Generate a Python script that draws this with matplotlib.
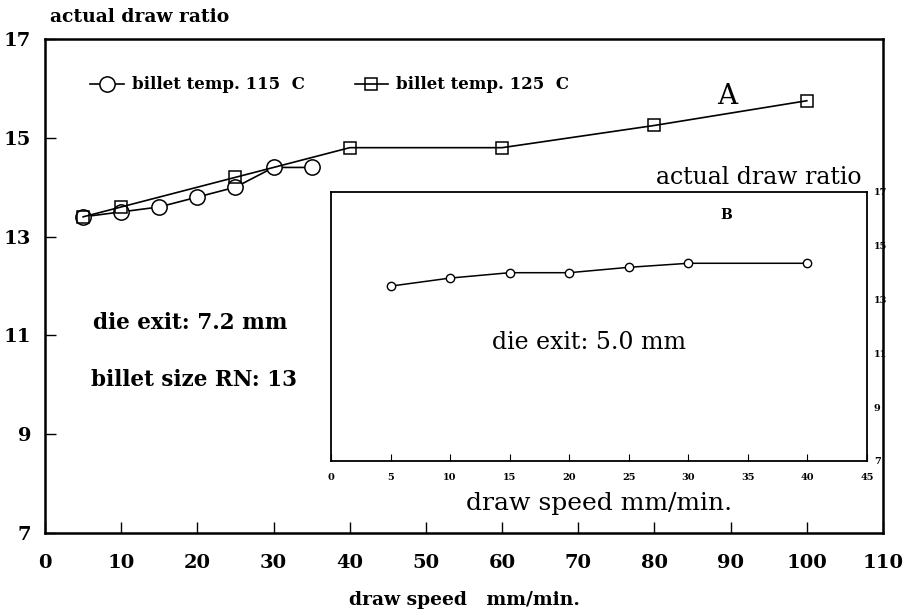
import matplotlib
matplotlib.use("Agg")
import matplotlib.pyplot as plt

# main panel A
speed_115 = [5, 10, 15, 20, 25, 30, 35]
ratio_115 = [13.4, 13.5, 13.6, 13.8, 14.0, 14.4, 14.4]
speed_125 = [5, 10, 25, 40, 60, 80, 100]
ratio_125 = [13.4, 13.6, 14.2, 14.8, 14.8, 15.25, 15.75]
main_xticks = [0, 10, 20, 30, 40, 50, 60, 70, 80, 90, 100, 110]
main_yticks = [7, 9, 11, 13, 15, 17]

# inset panel B
speed_b = [5, 10, 15, 20, 25, 30, 40]
ratio_b = [13.5, 13.8, 14.0, 14.0, 14.2, 14.35, 14.35]
inset_xticks = [0, 5, 10, 15, 20, 25, 30, 35, 40, 45]
inset_yticks = [7, 9, 11, 13, 15, 17]

plt.rcParams["font.family"] = ["DejaVu Serif"]

fig = plt.figure(figsize=(9.06, 6.14), dpi=100)
ax = fig.add_axes([0.0497, 0.1319, 0.9249, 0.8046])

ax.plot(speed_115, ratio_115, color="black", lw=1.2, marker="o", ms=11,
        mfc="white", mec="black", mew=1.1, label="billet temp. 115  C")
ax.plot(speed_125, ratio_125, color="black", lw=1.2, marker="s", ms=9,
        mfc="none", mec="black", mew=1.1, label="billet temp. 125  C")

ax.set_xlim(0, 110)
ax.set_ylim(7, 17)
ax.set_xticks(main_xticks)
ax.set_yticks(main_yticks)
ax.tick_params(direction="in", length=8, width=1, labelsize=14, pad=15)
ax.tick_params(axis="y", pad=10)
for lab in ax.get_xticklabels() + ax.get_yticklabels():
    lab.set_fontweight("bold")
for s in ax.spines.values():
    s.set_linewidth(1.8)

ax.set_xlabel("draw speed   mm/min.", fontsize=13.5, fontweight="bold", labelpad=14)
fig.text(0.055, 0.972, "actual draw ratio", fontsize=13.5, fontweight="bold",
         ha="left", va="center")

leg = ax.legend(loc="center left", bbox_to_anchor=(0.036, 0.907), ncol=2,
                frameon=False, handlelength=2.0, handletextpad=0.5,
                columnspacing=3.0, prop={"size": 12, "weight": "bold"})

ax.text(89.5, 15.83, "A", fontsize=20, ha="center", va="center")
ax.text(6.3, 11.25, "die exit: 7.2 mm", fontsize=15.5, fontweight="bold", va="center")
ax.text(6.0, 10.1, "billet size RN: 13", fontsize=15.5, fontweight="bold", va="center")

# inset
ins = fig.add_axes([0.3653, 0.2492, 0.5917, 0.4381])
ins.plot(speed_b, ratio_b, color="black", lw=1.1, marker="o", ms=6,
         mfc="white", mec="black", mew=1.0)
ins.set_xlim(0, 45)
ins.set_ylim(7, 17)
ins.set_xticks(inset_xticks)
ins.set_yticks(inset_yticks)
ins.tick_params(axis="x", direction="in", length=5, labelsize=7, pad=9)
ins.tick_params(axis="y", direction="in", length=0, labelsize=7, pad=5,
                left=False, right=True, labelleft=False, labelright=True)
for lab in ins.get_xticklabels() + ins.get_yticklabels():
    lab.set_fontweight("bold")
for s in ins.spines.values():
    s.set_linewidth(1.3)

ins.set_xlabel("draw speed mm/min.", fontsize=18, labelpad=7)
ins.text(0.99, 1.01, "actual draw ratio", transform=ins.transAxes,
         fontsize=17, ha="right", va="bottom")
ins.text(33.2, 16.15, "B", fontsize=10, fontweight="bold", ha="center", va="center")
ins.text(21.7, 11.4, "die exit: 5.0 mm", fontsize=17, ha="center", va="center")

fig.savefig("out.png", dpi=100)
